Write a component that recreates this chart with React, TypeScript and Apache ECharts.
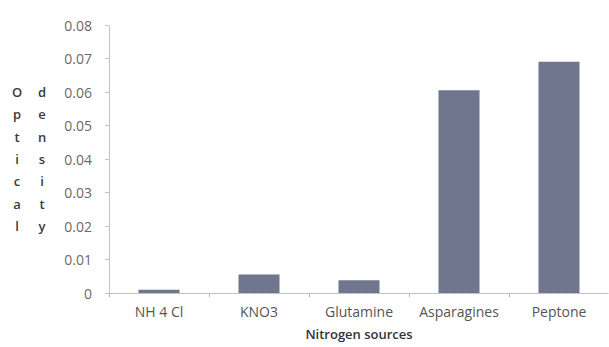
import React, { useEffect, useRef } from "react";
import * as echarts from "echarts";

// Nitrogen source categories and their measured optical density
const categories: string[] = ["NH 4 Cl", "KNO3", "Glutamine", "Asparagines", "Peptone"];
const opticalDensity: number[] = [0.001, 0.0055, 0.0038, 0.0605, 0.069];

// Axis range
const yMin = 0;
const yMax = 0.08;
const yStep = 0.01;

// Axis titles (the y title is stacked letter by letter in two columns)
const xTitle = "Nitrogen sources";
const yTitleWords: string[] = ["Optical", "density"];

const FONT = "'Open Sans', sans-serif";

export default function App() {
  const ref = useRef<HTMLDivElement>(null);

  useEffect(() => {
    if (!ref.current) return;
    const chart = echarts.init(ref.current, undefined, { renderer: "svg" });

    const gridLeft = 109;
    const gridTop = 25;
    const gridHeight = 268;
    const gridWidth = 505;

    // vertically stacked letters for the y-axis title
    const columnX = [17, 42];
    const firstLetterY = 92;
    const letterStep = 22.3;
    const letterGraphics: any[] = [];
    yTitleWords.forEach((word, col) => {
      word.split("").forEach((ch, i) => {
        letterGraphics.push({
          type: "text",
          x: columnX[col],
          y: firstLetterY + i * letterStep,
          style: {
            text: ch,
            fill: "#3a3a3a",
            font: `600 13px ${FONT}`,
            textAlign: "center",
            textVerticalAlign: "middle",
          },
        });
      });
    });

    chart.setOption({
      animation: false,
      backgroundColor: "#ffffff",
      grid: { left: gridLeft, top: gridTop, width: gridWidth, height: gridHeight },
      xAxis: {
        type: "category",
        data: categories,
        name: xTitle,
        nameLocation: "middle",
        nameGap: 34,
        nameTextStyle: { fontFamily: FONT, fontSize: 13, fontWeight: 600, color: "#333" },
        axisLine: { show: true, lineStyle: { color: "#b5b5b5", type: "dotted", width: 1 } },
        axisTick: { show: true, length: 4, interval: 0, lineStyle: { color: "#b5b5b5" } },
        axisLabel: {
          fontFamily: FONT,
          fontSize: 14,
          color: "#555",
          margin: 11,
          interval: 0,
          hideOverlap: false,
        },
        splitLine: { show: false },
      },
      yAxis: {
        type: "value",
        min: yMin,
        max: yMax,
        interval: yStep,
        axisLine: { show: true, lineStyle: { color: "#b5b5b5", type: "dotted", width: 1 } },
        axisTick: { show: true, length: 4, lineStyle: { color: "#c5c5c5" } },
        axisLabel: {
          fontFamily: FONT,
          fontSize: 14,
          color: "#6a6a6a",
          margin: 17,
          formatter: (v: number) => (v === 0 ? "0" : v.toFixed(2)),
        },
        splitLine: { show: false },
      },
      series: [
        {
          type: "bar",
          data: opticalDensity,
          barWidth: 41,
          itemStyle: { color: "#6f768e" },
        },
      ],
      graphic: letterGraphics,
    });

    return () => chart.dispose();
  }, []);

  return (
    <div
      ref={ref}
      style={{ position: "absolute", left: 0, top: 0, width: 609, height: 347, background: "#fff" }}
    />
  );
}
